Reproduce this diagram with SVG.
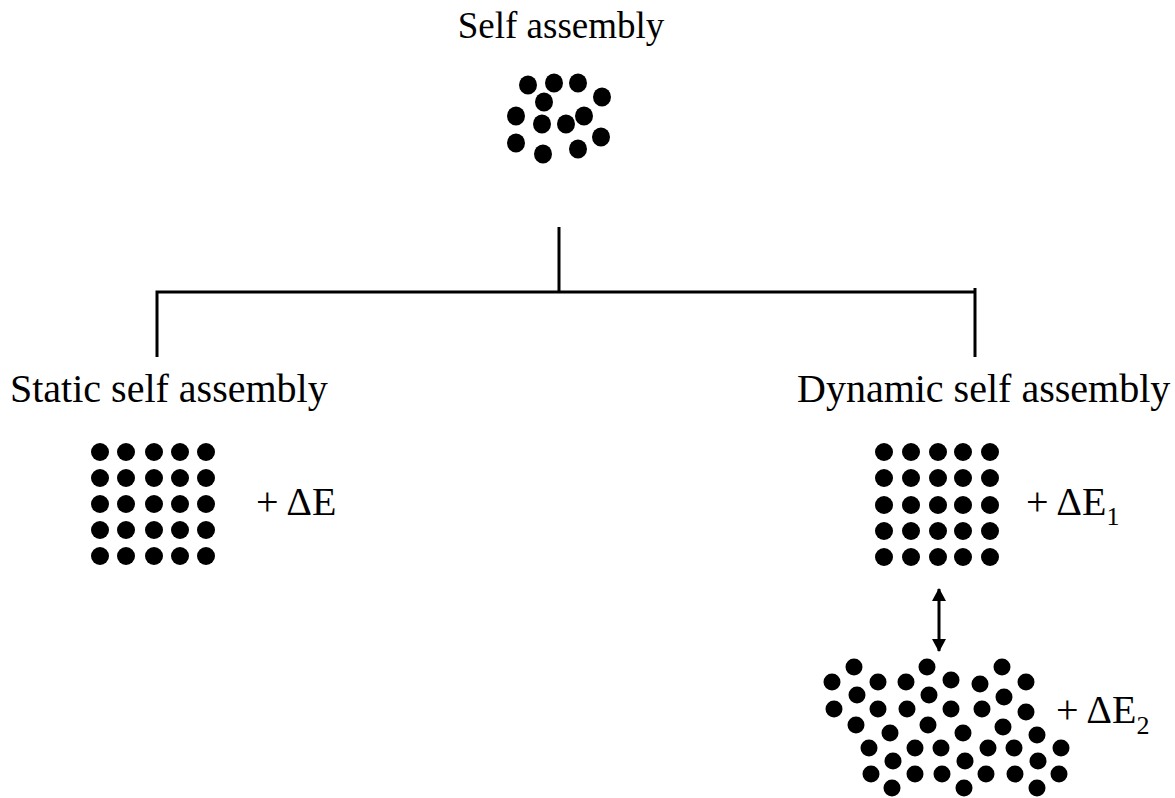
<svg xmlns="http://www.w3.org/2000/svg" width="1175" height="798" viewBox="0 0 1175 798">
<defs>
<style>
.t{font-family:"Liberation Serif","Times New Roman",serif;font-size:40px;fill:#000}
.d{fill:#000}
.c{stroke:#000;stroke-width:3;fill:none}
</style>
<marker id="ah" viewBox="0 0 13 14" refX="12" refY="7" markerWidth="13" markerHeight="14" markerUnits="userSpaceOnUse" orient="auto-start-reverse">
<path d="M0,0 L13,7 L0,14 Z" fill="#000"/>
</marker>
</defs>
<rect width="1175" height="798" fill="#fff"/>
<g id="connectors">
<path class="c" d="M559,227 V293"/>
<path class="c" d="M157,357 V292 H975"/>
<path class="c" d="M975,288 V357"/>
<line class="c" x1="939" y1="589" x2="939" y2="651" marker-start="url(#ah)" marker-end="url(#ah)"/>
</g>
<g id="self-assembly">
<text class="t" x="561" y="38" text-anchor="middle" style="font-size:37px">Self assembly</text>
<g class="d">
<ellipse cx="528" cy="85" rx="9" ry="9.5"/>
<ellipse cx="554" cy="83" rx="9" ry="9.5"/>
<ellipse cx="578" cy="83" rx="9" ry="9.5"/>
<ellipse cx="602" cy="97" rx="9" ry="9.5"/>
<ellipse cx="544" cy="102" rx="9" ry="9.5"/>
<ellipse cx="516" cy="116" rx="9" ry="9.5"/>
<ellipse cx="542" cy="124" rx="9" ry="9.5"/>
<ellipse cx="566" cy="124" rx="9" ry="9.5"/>
<ellipse cx="584" cy="116" rx="9" ry="9.5"/>
<ellipse cx="601" cy="137" rx="9" ry="9.5"/>
<ellipse cx="516" cy="143" rx="9" ry="9.5"/>
<ellipse cx="543" cy="154" rx="9" ry="9.5"/>
<ellipse cx="578" cy="149" rx="9" ry="9.5"/>
</g>
</g>
<g id="static-self-assembly">
<text class="t" x="10" y="402">Static self assembly</text>
<g class="d">
<circle cx="100" cy="452" r="9"/><circle cx="126" cy="452" r="9"/><circle cx="154" cy="452" r="9"/><circle cx="180" cy="452" r="9"/><circle cx="206" cy="452" r="9"/>
<circle cx="100" cy="478" r="9"/><circle cx="126" cy="478" r="9"/><circle cx="154" cy="478" r="9"/><circle cx="180" cy="478" r="9"/><circle cx="206" cy="478" r="9"/>
<circle cx="100" cy="504" r="9"/><circle cx="126" cy="504" r="9"/><circle cx="154" cy="504" r="9"/><circle cx="180" cy="504" r="9"/><circle cx="206" cy="504" r="9"/>
<circle cx="100" cy="530" r="9"/><circle cx="126" cy="530" r="9"/><circle cx="154" cy="530" r="9"/><circle cx="180" cy="530" r="9"/><circle cx="206" cy="530" r="9"/>
<circle cx="100" cy="556" r="9"/><circle cx="126" cy="556" r="9"/><circle cx="154" cy="556" r="9"/><circle cx="180" cy="556" r="9"/><circle cx="206" cy="556" r="9"/>
</g>
<text class="t" x="256" y="515">+ ΔE</text>
</g>
<g id="dynamic-self-assembly">
<text class="t" x="797" y="402">Dynamic self assembly</text>
<g class="d">
<circle cx="884" cy="452" r="9"/><circle cx="911" cy="452" r="9"/><circle cx="938" cy="452" r="9"/><circle cx="963" cy="452" r="9"/><circle cx="990" cy="452" r="9"/>
<circle cx="884" cy="478" r="9"/><circle cx="911" cy="478" r="9"/><circle cx="938" cy="478" r="9"/><circle cx="963" cy="478" r="9"/><circle cx="990" cy="478" r="9"/>
<circle cx="884" cy="505" r="9"/><circle cx="911" cy="505" r="9"/><circle cx="938" cy="505" r="9"/><circle cx="963" cy="505" r="9"/><circle cx="990" cy="505" r="9"/>
<circle cx="884" cy="531" r="9"/><circle cx="911" cy="531" r="9"/><circle cx="938" cy="531" r="9"/><circle cx="963" cy="531" r="9"/><circle cx="990" cy="531" r="9"/>
<circle cx="884" cy="557" r="9"/><circle cx="911" cy="557" r="9"/><circle cx="938" cy="557" r="9"/><circle cx="963" cy="557" r="9"/><circle cx="990" cy="557" r="9"/>
</g>
<text class="t" x="1026" y="515">+ ΔE<tspan style="font-size:26px" dy="10">1</tspan></text>
</g>
<g id="dynamic-disordered">
<g class="d">
<circle cx="854" cy="667" r="8.5"/><circle cx="927" cy="667" r="8.5"/><circle cx="1002" cy="667" r="8.5"/>
<circle cx="832" cy="682" r="8.5"/><circle cx="878" cy="682" r="8.5"/><circle cx="906" cy="682" r="8.5"/><circle cx="951" cy="680" r="8.5"/><circle cx="980" cy="684" r="8.5"/><circle cx="1026" cy="682" r="8.5"/>
<circle cx="857" cy="695" r="8.5"/><circle cx="929" cy="695" r="8.5"/><circle cx="1004" cy="697" r="8.5"/>
<circle cx="834" cy="709" r="8.5"/><circle cx="878" cy="709" r="8.5"/><circle cx="907" cy="709" r="8.5"/><circle cx="951" cy="709" r="8.5"/><circle cx="982" cy="709" r="8.5"/><circle cx="1026" cy="712" r="8.5"/>
<circle cx="856" cy="725" r="8.5"/><circle cx="928" cy="725" r="8.5"/><circle cx="1003" cy="727" r="8.5"/>
<circle cx="890" cy="733" r="8.5"/><circle cx="963" cy="733" r="8.5"/><circle cx="1037" cy="735" r="8.5"/>
<circle cx="869" cy="748" r="8.5"/><circle cx="915" cy="748" r="8.5"/><circle cx="941" cy="748" r="8.5"/><circle cx="988" cy="748" r="8.5"/><circle cx="1014" cy="748" r="8.5"/><circle cx="1061" cy="748" r="8.5"/>
<circle cx="893" cy="761" r="8.5"/><circle cx="965" cy="761" r="8.5"/><circle cx="1038" cy="761" r="8.5"/>
<circle cx="871" cy="774" r="8.5"/><circle cx="915" cy="774" r="8.5"/><circle cx="942" cy="774" r="8.5"/><circle cx="986" cy="774" r="8.5"/><circle cx="1015" cy="774" r="8.5"/><circle cx="1059" cy="774" r="8.5"/>
<circle cx="892" cy="788" r="8.5"/><circle cx="964" cy="788" r="8.5"/><circle cx="1037" cy="788" r="8.5"/>
</g>
<text class="t" x="1056" y="723">+ ΔE<tspan style="font-size:26px" dy="11">2</tspan></text>
</g>
</svg>
